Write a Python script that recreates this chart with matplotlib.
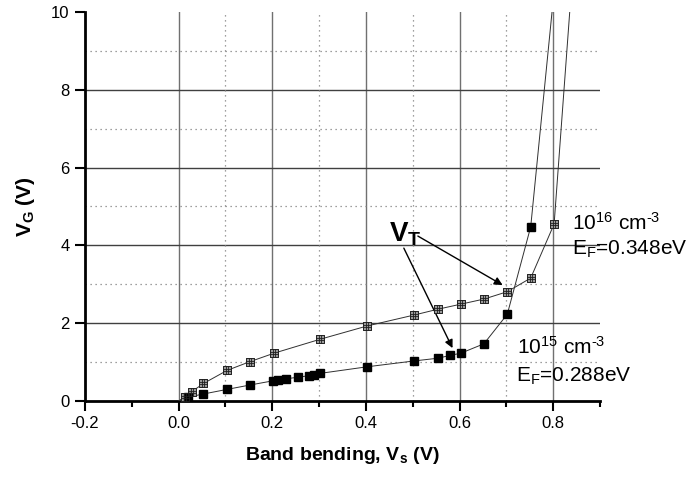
import matplotlib
matplotlib.use("Agg")
import matplotlib.pyplot as plt
from matplotlib.path import Path
import numpy as np

plt.rcParams['font.family'] = ['Liberation Sans', 'DejaVu Sans']
plt.rcParams['mathtext.fontset'] = 'custom'
plt.rcParams['mathtext.rm'] = 'Liberation Sans'
plt.rcParams['mathtext.bf'] = 'Liberation Sans:bold'
plt.rcParams['mathtext.it'] = 'Liberation Sans:italic'
plt.rcParams['mathtext.default'] = 'rm'

# 10^16 cm^-3 series (hatched squares)
x16 = [0.0, 0.013, 0.028, 0.053, 0.104, 0.152, 0.204, 0.303, 0.403, 0.503,
       0.554, 0.603, 0.652, 0.702, 0.752, 0.802, 0.85]
y16 = [0.0, 0.10, 0.24, 0.45, 0.79, 1.01, 1.23, 1.59, 1.93, 2.21,
       2.36, 2.49, 2.62, 2.81, 3.16, 4.55, 12.4]

# 10^15 cm^-3 series (filled squares)
x15 = [0.0, 0.02, 0.053, 0.104, 0.152, 0.202, 0.212, 0.229, 0.254, 0.278,
       0.29, 0.302, 0.403, 0.503, 0.554, 0.579, 0.603, 0.652, 0.702, 0.752, 0.80]
y15 = [0.0, 0.10, 0.18, 0.30, 0.41, 0.52, 0.54, 0.57, 0.61, 0.65,
       0.68, 0.71, 0.88, 1.03, 1.10, 1.17, 1.23, 1.47, 2.23, 4.48, 10.3]

xticks = [-0.2, 0.0, 0.2, 0.4, 0.6, 0.8]
yticks = [0, 2, 4, 6, 8, 10]

fig = plt.figure(figsize=(6.89, 4.80), dpi=100)
ax = fig.add_axes([85/689, 79/480, 515/689, 389/480])
ax.set_xlim(-0.2, 0.9)
ax.set_ylim(0, 10)

# grid
for gx in [0.0, 0.2, 0.4, 0.6, 0.8]:
    ax.axvline(gx, color='#707070', lw=1.0, zorder=1)
for gy in [2, 4, 6, 8]:
    ax.axhline(gy, color='#404040', lw=1.0, zorder=1)
for gx in [0.1, 0.3, 0.5, 0.7]:
    ax.axvline(gx, color='#808080', lw=0.9, ls=(0, (1, 3)), zorder=1)
for gy in [1, 3, 5, 7, 9]:
    ax.axhline(gy, color='#808080', lw=0.9, ls=(0, (1, 3)), zorder=1)

# hatched marker path (square with inner grid)
a = 1.0
b = 0.33
verts = [(-a, -a), (a, -a), (a, a), (-a, a), (-a, -a),
         (-a, -b), (a, -b), (-a, b), (a, b),
         (-b, -a), (-b, a), (b, -a), (b, a)]
codes = [Path.MOVETO, Path.LINETO, Path.LINETO, Path.LINETO, Path.CLOSEPOLY,
         Path.MOVETO, Path.LINETO, Path.MOVETO, Path.LINETO,
         Path.MOVETO, Path.LINETO, Path.MOVETO, Path.LINETO]
gridmark = Path(verts, codes)

n16 = len(x16)
n15 = len(x15)
ax.plot(x16, y16, color='#303030', lw=0.7, zorder=3)
ax.plot(x16, y16, ls='none', marker='s', ms=6, mfc='#9a9a9a', mec='#303030',
        mew=0.6, markevery=list(range(1, n16 - 1)), zorder=4)
ax.plot(x16, y16, ls='none', marker=gridmark, ms=6, mfc='none', mec='#202020',
        mew=0.6, markevery=list(range(1, n16 - 1)), zorder=5)

ax.plot(x15, y15, color='#303030', lw=0.7, zorder=3)
ax.plot(x15, y15, ls='none', marker='s', ms=5.5, mfc='black', mec='black',
        markevery=list(range(1, n15 - 1)), zorder=4)

# spines and ticks
for s in ['top', 'right']:
    ax.spines[s].set_visible(False)
for s in ['left', 'bottom']:
    ax.spines[s].set_linewidth(2.0)
ax.set_xticks(xticks)
ax.set_xticklabels(['%.1f' % v for v in xticks])
ax.set_xticks(np.arange(-0.1, 0.95, 0.2), minor=True)
ax.set_yticks(yticks)
ax.set_yticklabels([str(v) for v in yticks])
ax.tick_params(axis='both', which='major', direction='out', length=7, width=1.5,
               labelsize=12, pad=4)
ax.tick_params(axis='x', which='minor', direction='out', length=4, width=1.5)

ax.set_xlabel(r'Band bending, V$_\mathbf{s}$ (V)', fontsize=14, fontweight='bold',
              labelpad=10)
ax.set_ylabel(r'V$_\mathbf{G}$ (V)', fontsize=15, fontweight='bold', labelpad=10)

# annotations
ax.text(0.449, 4.09, r'$\mathbf{V_T}$', fontsize=20, ha='left', va='baseline')
ax.annotate('', xy=(0.692, 2.98), xytext=(0.511, 4.24),
            arrowprops=dict(arrowstyle='-|>', color='black', lw=1.0,
                            mutation_scale=12, shrinkA=0, shrinkB=0))
ax.annotate('', xy=(0.585, 1.36), xytext=(0.481, 3.93),
            arrowprops=dict(arrowstyle='-|>', color='black', lw=1.0,
                            mutation_scale=12, shrinkA=0, shrinkB=0))

ax.text(0.84, 4.40, '10$^{16}$ cm$^{\\mathrm{\u2010}3}$', fontsize=15, ha='left', va='baseline')
ax.text(0.84, 3.75, r'E$_\mathrm{F}$=0.348eV', fontsize=15, ha='left', va='baseline')
ax.text(0.722, 1.21, '10$^{15}$ cm$^{\\mathrm{\u2010}3}$', fontsize=15, ha='left', va='baseline')
ax.text(0.72, 0.49, r'E$_\mathrm{F}$=0.288eV', fontsize=15, ha='left', va='baseline')

fig.savefig('out.png', dpi=100)
